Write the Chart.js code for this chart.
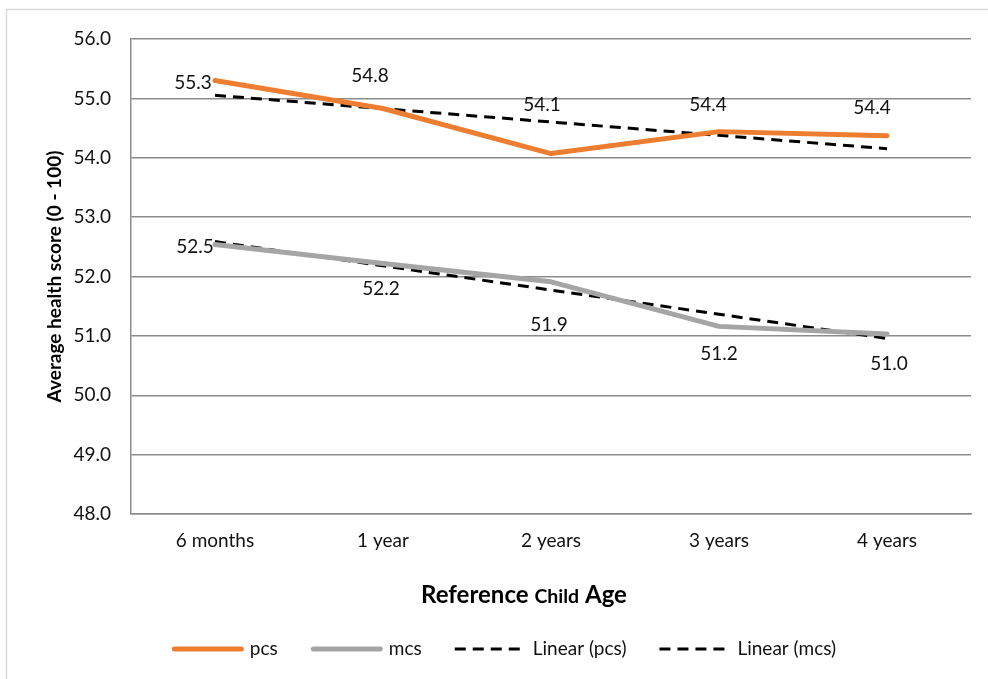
<!DOCTYPE html>
<html>
<head>
<meta charset="utf-8">
<script src="https://cdn.jsdelivr.net/npm/chart.js@4.4.1/dist/chart.umd.min.js"></script>
<style>
  html, body { margin: 0; padding: 0; background: #fff; }
  #wrap { width: 988px; height: 679px; position: relative; }
</style>
</head>
<body>
<div id="wrap"><canvas id="healthChart"></canvas></div>
<script>
// categories and average scores per age
var ageLabels = ['6 months', '1 year', '2 years', '3 years', '4 years'];
var pcsScores = [55.30, 54.83, 54.07, 54.44, 54.37];
var mcsScores = [52.54, 52.22, 51.91, 51.16, 51.03];
var yMin = 48;
var yMax = 56;
var yStep = 1;

// where each value label sits relative to its point (px)
var pcsLabelShift = [[-22, 2], [-13, -33], [-9, -49], [-11, -27], [-15, -28]];
var mcsLabelShift = [[-20, 2], [-2, 25], [-2, 43], [0, 27], [2, 30]];

// x axis title, "Child" is set in a smaller size
var xTitleParts = [['Reference ', 24], ['Child', 19.5], [' Age', 24]];

// least squares trend line, same as Excel's "Linear" trendline
function linearFit(values) {
    var n = values.length;
    var sx = 0, sy = 0, sxy = 0, sxx = 0;
    for (var i = 0; i < n; i++) {
        sx += i; sy += values[i]; sxy += i * values[i]; sxx += i * i;
    }
    var slope = (n * sxy - sx * sy) / (n * sxx - sx * sx);
    var icpt = (sy - slope * sx) / n;
    return values.map(function (v, i) { return icpt + slope * i; });
}

var FONT = 'Lato, "Noto Sans", sans-serif';
var TEXT = '#111';
var GRID = '#8c8c8c';
var TREND_DASH = [11, 7];

Chart.defaults.font.family = FONT;
Chart.defaults.font.size = 19;
Chart.defaults.color = TEXT;

var frame = {
    id: 'frame',
    beforeDraw: function (chart) {
        var c = chart.ctx;
        c.save();
        c.fillStyle = '#fff';
        c.fillRect(0, 0, chart.width, chart.height);
        c.strokeStyle = '#d9d9d9';
        c.lineWidth = 1.5;
        c.strokeRect(6.5, 9.5, chart.width + 20, chart.height + 20);
        c.restore();
    }
};

var valueLabels = {
    id: 'valueLabels',
    afterDatasetsDraw: function (chart) {
        var c = chart.ctx;
        var sets = [[0, pcsScores, pcsLabelShift], [1, mcsScores, mcsLabelShift]];
        c.save();
        c.font = '19px ' + FONT;
        c.fillStyle = TEXT;
        c.textAlign = 'center';
        c.textBaseline = 'middle';
        sets.forEach(function (s) {
            var meta = chart.getDatasetMeta(s[0]);
            meta.data.forEach(function (pt, i) {
                c.fillText(s[1][i].toFixed(1), pt.x + s[2][i][0], pt.y + s[2][i][1]);
            });
        });
        c.restore();
    }
};

var xTitle = {
    id: 'xTitle',
    afterDraw: function (chart) {
        var c = chart.ctx;
        var area = chart.chartArea;
        c.save();
        c.fillStyle = '#000';
        c.textBaseline = 'alphabetic';
        var total = 0;
        xTitleParts.forEach(function (p) {
            c.font = 'bold ' + p[1] + 'px ' + FONT;
            total += c.measureText(p[0]).width;
        });
        var x = (area.left + area.right) / 2 - 27 - total / 2;
        var y = area.bottom + 89;
        xTitleParts.forEach(function (p) {
            c.font = 'bold ' + p[1] + 'px ' + FONT;
            c.fillText(p[0], x, y);
            x += c.measureText(p[0]).width;
        });
        c.restore();
    }
};

// legend drawn by hand so the trend entries keep their dashes
var lineLegend = {
    id: 'lineLegend',
    afterDraw: function (chart) {
        var c = chart.ctx;
        var area = chart.chartArea;
        var sample = 72, gap = 6, spacing = 33;
        var sets = chart.data.datasets;
        c.save();
        c.font = '19px ' + FONT;
        var widths = sets.map(function (d) { return sample + gap + c.measureText(d.label).width; });
        var total = widths.reduce(function (a, b) { return a + b; }, 0) + spacing * (sets.length - 1);
        var x = (area.left + area.right) / 2 - 47 - total / 2;
        var y = area.bottom + 135;
        sets.forEach(function (d, i) {
            c.strokeStyle = d.borderColor;
            c.lineWidth = d.borderWidth;
            c.beginPath();
            if (d.borderDash) {
                c.setLineDash(d.borderDash);
                c.lineCap = 'butt';
                c.moveTo(x, y);
                c.lineTo(x + sample, y);
            } else {
                c.setLineDash([]);
                c.lineCap = 'round';
                c.moveTo(x + d.borderWidth / 2, y);
                c.lineTo(x + sample - d.borderWidth / 2, y);
            }
            c.stroke();
            c.fillStyle = TEXT;
            c.textBaseline = 'middle';
            c.fillText(d.label, x + sample + gap, y);
            x += widths[i] + spacing;
        });
        c.restore();
    }
};

var ctx = document.getElementById('healthChart').getContext('2d');
var healthChart = new Chart(ctx, {
    type: 'line',
    data: {
        labels: ageLabels,
        datasets: [{
            label: 'pcs',
            data: pcsScores,
            borderColor: '#ED7D31',
            borderWidth: 5,
            borderCapStyle: 'round',
            borderJoinStyle: 'round',
            pointRadius: 0
        }, {
            label: 'mcs',
            data: mcsScores,
            borderColor: '#A5A5A5',
            borderWidth: 5,
            borderCapStyle: 'round',
            borderJoinStyle: 'round',
            pointRadius: 0
        }, {
            label: 'Linear (pcs)',
            data: linearFit(pcsScores),
            borderColor: '#000',
            borderWidth: 3,
            borderDash: TREND_DASH,
            pointRadius: 0
        }, {
            label: 'Linear (mcs)',
            data: linearFit(mcsScores),
            borderColor: '#000',
            borderWidth: 3,
            borderDash: TREND_DASH,
            pointRadius: 0
        }]
    },
    options: {
        responsive: true,
        maintainAspectRatio: false,
        animation: false,
        layout: { padding: { left: 43, right: 17, top: 39, bottom: 73 } },
        scales: {
            x: {
                offset: true,
                grid: { display: false, drawTicks: false },
                border: { display: true, color: GRID, width: 1.5 },
                ticks: { padding: 15, maxRotation: 0 },
                afterFit: function (s) { s.height = 92; }
            },
            y: {
                min: yMin,
                max: yMax,
                ticks: {
                    stepSize: yStep,
                    padding: 20,
                    callback: function (v) { return v.toFixed(1); }
                },
                grid: { color: GRID, lineWidth: 1.5, drawTicks: false },
                border: { display: true, color: GRID, width: 1.5 },
                title: {
                    display: true,
                    text: 'Average health score (0 - 100)',
                    font: { size: 19, weight: 'bold' },
                    color: '#000',
                    padding: 0
                },
                afterFit: function (s) { s.width = 88; }
            }
        },
        plugins: {
            legend: { display: false },
            tooltip: { enabled: false }
        }
    },
    plugins: [frame, valueLabels, xTitle, lineLegend]
});
</script>
</body>
</html>
